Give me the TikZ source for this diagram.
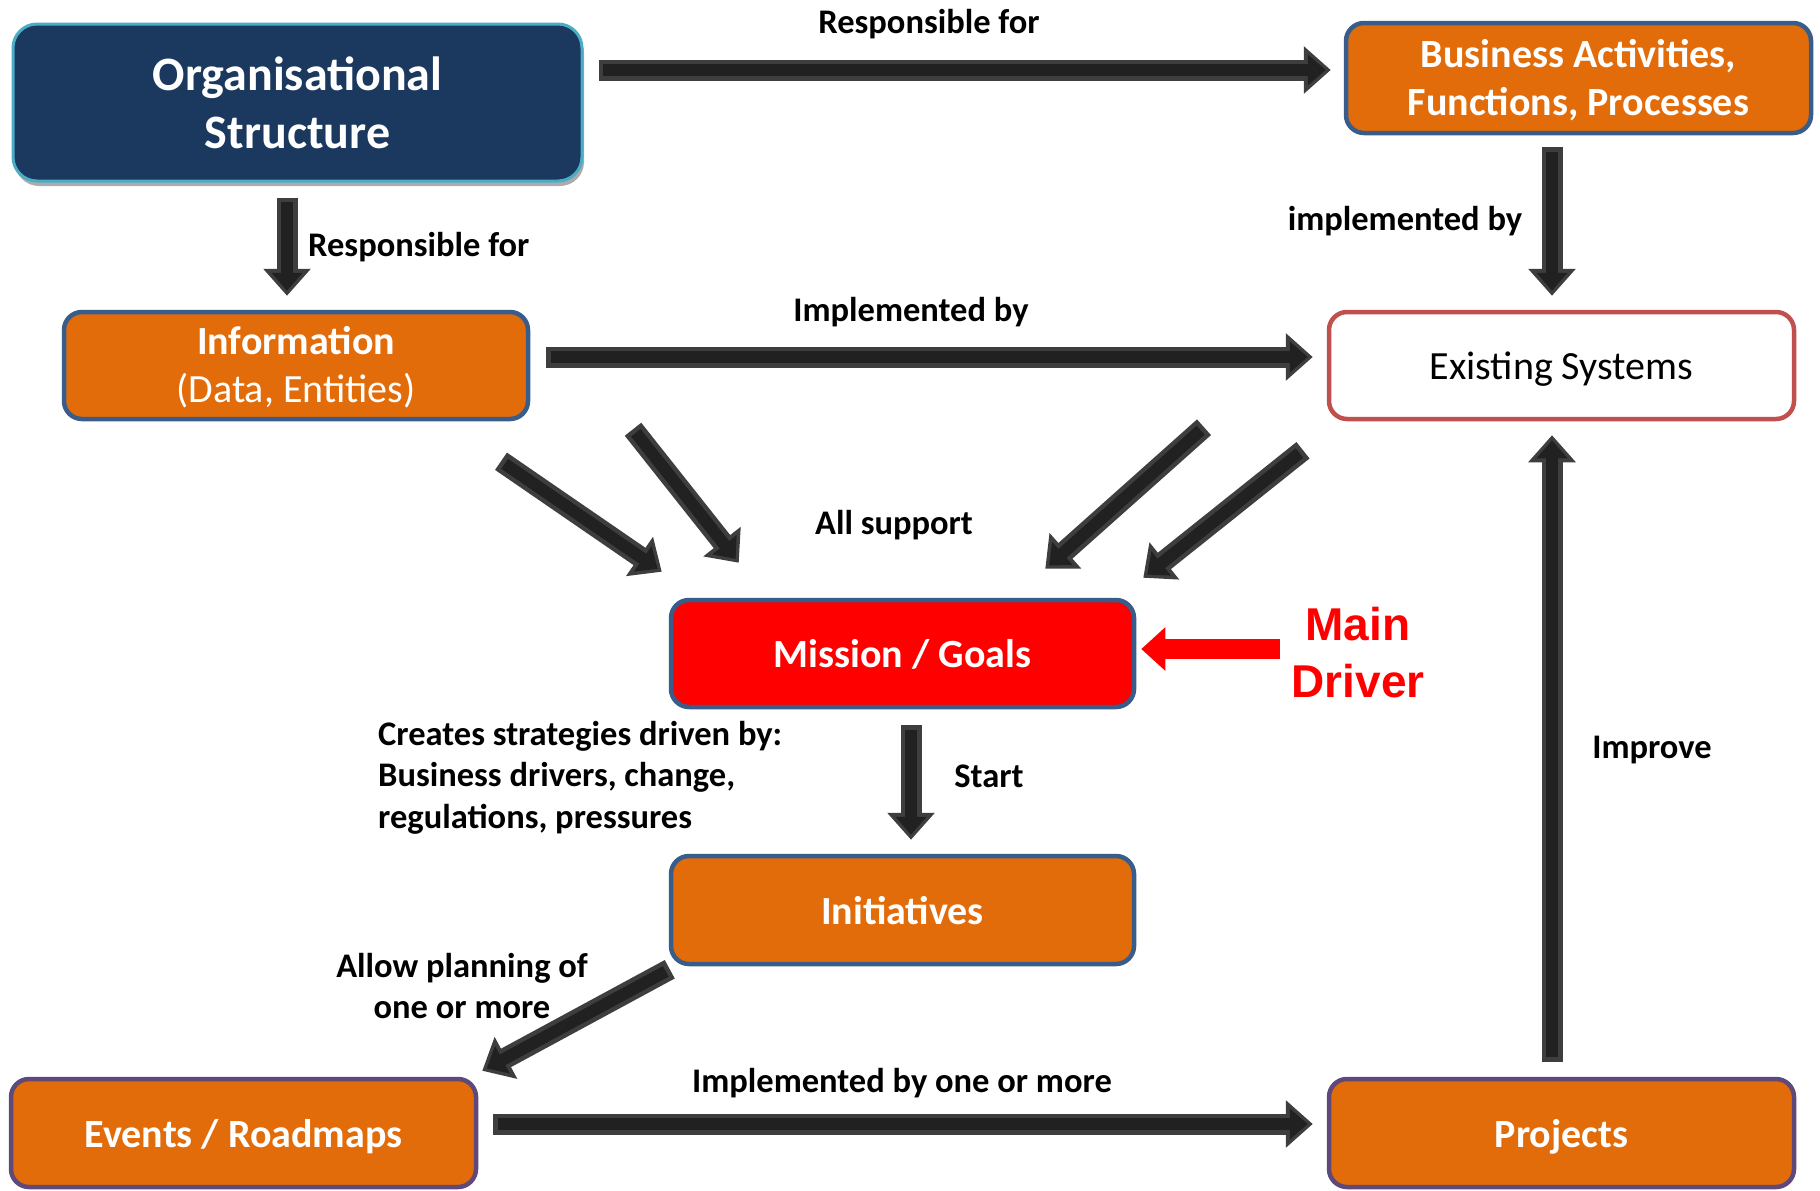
\documentclass[tikz,border=0pt]{standalone}
\usepackage{fontspec}
\setmainfont{Carlito}
\newfontfamily\arialf{Liberation Sans}
\usetikzlibrary{arrows.meta,shadows}
\definecolor{orng}{RGB}{226,108,10}
\definecolor{bblue}{RGB}{56,93,138}
\definecolor{purp}{RGB}{95,73,122}
\definecolor{esred}{RGB}{192,80,77}
\definecolor{navy}{RGB}{27,56,94}
\definecolor{lblue}{RGB}{75,172,198}
\definecolor{arrowborder}{RGB}{62,62,62}
\definecolor{arrowcore}{RGB}{33,33,33}
\tikzset{
  box/.style={rounded corners=18pt, line width=4.5pt, align=center, inner sep=0pt,
              minimum width=462pt, minimum height=105pt, text=white,
              text height=28pt, text depth=0pt,
              font=\fontsize{40}{48}\selectfont\bfseries},
  twoline/.style={text height=74pt, text depth=0pt},
  orangebox/.style={box, fill=orng, draw=bblue},
  purplebox/.style={box, fill=orng, draw=purp},
  lbl/.style={font=\fontsize{34.5}{41.5}\selectfont\bfseries, inner sep=0pt, align=center, yshift=-2.5pt},
  blk/.style={draw=arrowborder, line width=21pt, -{Triangle[length=27pt,width=46pt]},
    postaction={draw=arrowcore, line width=12pt, -{Triangle[length=18pt,width=30pt]},
                shorten >=5pt, shorten <=4.5pt}},
  redarrow/.style={draw=red, line width=20pt, -{Triangle[length=24pt,width=42pt]}}
}
\begin{document}
\begin{tikzpicture}[x=1pt,y=-1pt]
\useasboundingbox (0,0) rectangle (1820,1191);

% nodes
\node[box, rounded corners=24pt, fill=navy, draw=lblue, line width=3pt,
      minimum width=569pt, minimum height=157pt, text height=, text depth=,
      font=\fontsize{48}{58}\selectfont\bfseries,
      drop shadow={shadow xshift=2pt, shadow yshift=-5pt, fill=black!55, opacity=0.6}]
      (org) at (297.5,102.5) {Organisational\\Structure};
\node[orangebox, twoline, minimum width=465pt, minimum height=110pt] (ba) at (1578.5,78) {Business Activities,\\Functions, Processes};
\node[orangebox, twoline, minimum width=464pt, minimum height=107pt] (info) at (296,365.5) {Information\\{\mdseries (Data, Entities)}};
\node[box, fill=white, draw=esred, text=black, minimum width=465pt, minimum height=107pt,
      font=\fontsize{40}{48}\selectfont] (es) at (1561.5,365.5) {Existing Systems};
\node[box, fill=red, draw=bblue, minimum width=463pt, minimum height=107pt] (mis) at (902.5,653.5) {Mission / Goals};
\node[orangebox, minimum width=463pt, minimum height=108pt] (ini) at (902.5,910) {Initiatives};
\node[purplebox, minimum width=465pt, minimum height=108pt] (ev) at (243.5,1133) {Events / Roadmaps};
\node[purplebox, minimum width=465pt, minimum height=108pt] (pr) at (1561.5,1133) {Projects};

% labels
\node[lbl] (l1) at (929,22) {Responsible for};
\node[lbl, anchor=west] (l2) at (308,245) {Responsible for};
\node[lbl] (l3) at (1405,219) {implemented by};
\node[lbl] (l4) at (911,310) {Implemented by};
\node[lbl] (l5) at (894,523) {All support};
\node[lbl, anchor=west, align=left] (l6) at (378,775) {Creates strategies driven by:\\Business drivers, change,\\regulations, pressures};
\node[lbl] (l7) at (989,774) {Start};
\node[lbl] (l8) at (462,983.5) {Allow planning of\\one or more};
\node[lbl] (l9) at (902,1081) {Implemented by one or more};
\node[lbl] (l10) at (1652,748) {Improve};
\node[inner sep=0pt, align=center, text=red, font=\arialf\fontsize{46}{57}\selectfont\bfseries] (md) at (1358,653) {Main\\Driver};
\coordinate (mdsrc) at (1280,649);

% connectors
\draw[blk] ([xshift=15pt,yshift=32.5pt]org.east) -- ([xshift=-13pt,yshift=8pt]ba.west);
\draw[blk] ([xshift=-10.5pt,yshift=-15pt]org.south) -- ([xshift=-9pt,yshift=14pt]info.north);
\draw[blk] ([xshift=-26.5pt,yshift=-12pt]ba.south) -- ([xshift=-9.5pt,yshift=14pt]es.north);
\draw[blk] ([xshift=16pt,yshift=8.5pt]info.east) -- ([xshift=-14pt,yshift=8.5pt]es.west);
\draw[blk] ([xshift=205pt,yshift=-40pt]info.south) -- ([xshift=-7pt,yshift=26pt]mis.north west);
\draw[blk] ([xshift=337pt,yshift=-8pt]info.south) -- ([xshift=70pt,yshift=35pt]mis.north west);
\draw[blk] ([xshift=-357.5pt,yshift=-6pt]es.south) -- ([xshift=-91pt,yshift=29pt]mis.north east);
\draw[blk] ([xshift=-258.5pt,yshift=-29pt]es.south) -- ([xshift=7pt,yshift=20pt]mis.north east);
\draw[blk] ([xshift=8.5pt,yshift=-16pt]mis.south) -- ([xshift=8.5pt,yshift=14pt]ini.north);
\draw[blk] ([xshift=1pt,yshift=-3pt]ini.south west) -- ([xshift=4pt,yshift=6pt]ev.north east);
\draw[blk] ([xshift=15pt,yshift=9pt]ev.east) -- ([xshift=-14pt,yshift=9pt]pr.west);
\draw[blk] ([xshift=-9.5pt,yshift=15pt]pr.north) -- ([xshift=-9.5pt,yshift=-14pt]es.south);
\draw[redarrow] (mdsrc) -- ([xshift=5pt,yshift=4.5pt]mis.east);
\end{tikzpicture}
\end{document}
